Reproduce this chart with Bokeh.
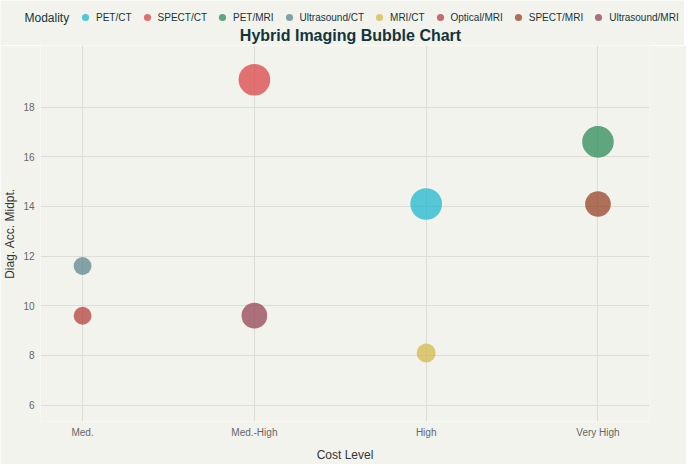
import math

from bokeh.embed import file_html
from bokeh.layouts import column
from bokeh.models import FixedTicker, Label, Legend, LegendItem, Range1d
from bokeh.plotting import figure
from bokeh.resources import INLINE

# data
modalities = ["PET/CT", "SPECT/CT", "PET/MRI", "Ultrasound/CT",
              "MRI/CT", "Optical/MRI", "SPECT/MRI", "Ultrasound/MRI"]
cost = ["High", "Med.-High", "Very High", "Med.",
        "High", "Med.", "Very High", "Med.-High"]
acc_mid = [14.1, 19.1, 16.6, 11.6, 8.1, 9.6, 14.1, 9.6]
bubble_val = [10, 10, 10, 3.2, 3.6, 3.2, 6.6, 6.6]
cost_levels = ["Med.", "Med.-High", "High", "Very High"]
y_ticks = [6, 8, 10, 12, 14, 16, 18]

colors = ["#1FB8CD", "#DB4545", "#2E8B57", "#5D878F",
          "#D2BA4C", "#B4413C", "#964325", "#944454"]
bg = "#f3f3ee"
ink = "#13343b"
FONT = "Liberation Sans"
ALPHA = 0.75

# header strip (legend + title); frame spans the whole strip
hdr = figure(width=684, height=45, output_backend="svg",
             toolbar_location=None, x_axis_location=None, y_axis_location=None,
             x_range=Range1d(0, 1), y_range=Range1d(0, 1), min_border=0)
if "frame_align" in hdr.properties():
    hdr.frame_align = False
hdr.background_fill_color = bg
hdr.border_fill_color = bg
hdr.outline_line_color = None
hdr.grid.visible = False

p = figure(frame_width=609, frame_height=376, output_backend="svg",
           toolbar_location=None,
           x_range=Range1d(-0.245, 3.3), y_range=Range1d(5.34, 20.48),
           min_border_left=38, min_border_right=37, min_border_top=0,
           min_border_bottom=37)
if "frame_align" in p.properties():
    p.frame_align = False
p.background_fill_color = bg
p.border_fill_color = bg
p.outline_line_color = None

items = []
for i, name in enumerate(modalities):
    p.scatter(x=[cost_levels.index(cost[i])], y=[acc_mid[i]],
              size=[10 * math.sqrt(bubble_val[i])],
              fill_color=colors[i], fill_alpha=ALPHA, line_color=None)
    # legend key lives in the header, its point sits outside the header range
    key = hdr.scatter(x=[-1], y=[-1], fill_color=colors[i], fill_alpha=ALPHA,
                      line_color=None)
    items.append(LegendItem(label=name, renderers=[key]))

p.xaxis.ticker = FixedTicker(ticks=list(range(len(cost_levels))))
p.xaxis.major_label_overrides = {i: c for i, c in enumerate(cost_levels)}
p.yaxis.ticker = FixedTicker(ticks=y_ticks)
p.xaxis.axis_label = "Cost Level"
p.yaxis.axis_label = "Diag. Acc. Midpt."

for ax in (p.xaxis, p.yaxis):
    ax.axis_line_color = None
    ax.major_tick_line_color = None
    ax.minor_tick_line_color = None
    ax.major_tick_out = 0
    ax.major_tick_in = 0
    ax.minor_tick_out = 0
    ax.minor_tick_in = 0
    ax.major_label_text_font = FONT
    ax.major_label_text_font_size = "10px"
    ax.major_label_text_color = "#666666"
    ax.axis_label_text_font = FONT
    ax.axis_label_text_font_size = "12px"
    ax.axis_label_text_font_style = "normal"
    ax.axis_label_text_color = "#333333"
p.xaxis.major_label_standoff = 5
p.xaxis.axis_label_standoff = 7
p.yaxis.major_label_standoff = 6
p.yaxis.axis_label_standoff = 3

p.grid.grid_line_color = "#dcdcd8"
p.grid.grid_line_width = 1

legend = Legend(items=items, orientation="horizontal", location=(76, 19),
                glyph_width=18, glyph_height=18, label_standoff=2, spacing=6,
                padding=0, margin=0, border_line_color=None,
                background_fill_alpha=0,
                label_text_font=FONT, label_text_font_size="10px",
                label_text_color=ink)
hdr.add_layout(legend)

hdr.add_layout(Label(x=24, y=28, x_units="screen", y_units="screen",
                     text="Modality", text_font=FONT,
                     text_font_size="12px", text_color=ink,
                     text_baseline="middle"))
hdr.add_layout(Label(x=350, y=10, x_units="screen", y_units="screen",
                     text="Hybrid Imaging Bubble Chart", text_font=FONT,
                     text_font_size="16px", text_font_style="bold",
                     text_color=ink, text_align="center",
                     text_baseline="alphabetic"))

layout = column(hdr, p, spacing=0)
open("out.html", "w").write(file_html(layout, INLINE))
